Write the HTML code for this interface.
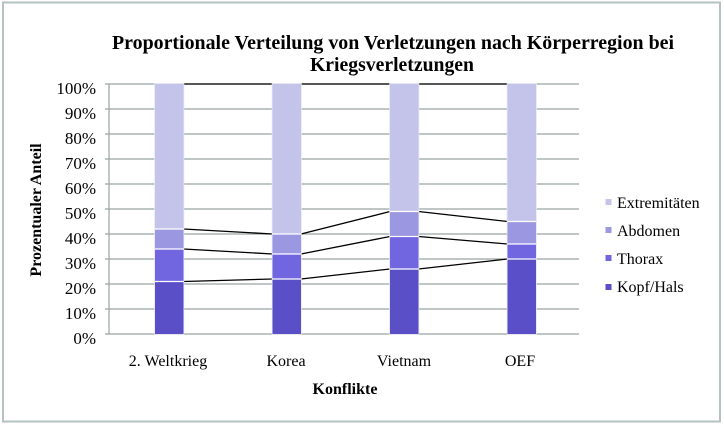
<!DOCTYPE html>
<html><head><meta charset="utf-8"><style>
html,body{margin:0;padding:0;background:#fff;}
svg{display:block;}
text{font-family:"Liberation Serif","DejaVu Serif",serif;fill:#000;}
</style></head><body>
<svg width="724" height="425" viewBox="0 0 724 425" xmlns="http://www.w3.org/2000/svg">
<rect x="0" y="0" width="724" height="425" fill="#fff"/>
<rect x="3" y="2.5" width="717" height="419" fill="none" stroke="#b6c2c2" stroke-width="2"/>
<!-- title -->
<text x="393" y="49" font-size="20" font-weight="bold" text-anchor="middle" textLength="562" lengthAdjust="spacingAndGlyphs">Proportionale Verteilung von Verletzungen nach Körperregion bei</text>
<text x="392" y="71" font-size="20" font-weight="bold" text-anchor="middle" textLength="164" lengthAdjust="spacingAndGlyphs">Kriegsverletzungen</text>
<!-- gridlines -->
<g stroke="#98a4a4" stroke-width="1.2">
<line x1="105" y1="84" x2="579" y2="84"/>
<line x1="105" y1="109" x2="579" y2="109"/>
<line x1="105" y1="134" x2="579" y2="134"/>
<line x1="105" y1="159" x2="579" y2="159"/>
<line x1="105" y1="184" x2="579" y2="184"/>
<line x1="105" y1="209" x2="579" y2="209"/>
<line x1="105" y1="234" x2="579" y2="234"/>
<line x1="105" y1="259" x2="579" y2="259"/>
<line x1="105" y1="284" x2="579" y2="284"/>
<line x1="105" y1="309" x2="579" y2="309"/>
<line x1="105" y1="334" x2="579" y2="334"/>
<line x1="109" y1="84" x2="109" y2="334"/>
</g>
<!-- y labels -->
<g font-size="17" text-anchor="end">
<text x="96" y="94">100%</text>
<text x="96" y="119">90%</text>
<text x="96" y="144">80%</text>
<text x="96" y="169">70%</text>
<text x="96" y="194">60%</text>
<text x="96" y="219">50%</text>
<text x="96" y="244">40%</text>
<text x="96" y="269">30%</text>
<text x="96" y="294">20%</text>
<text x="96" y="319">10%</text>
<text x="96" y="344">0%</text>
</g>
<text transform="translate(41,210) rotate(-90)" font-size="16" font-weight="bold" text-anchor="middle">Prozentualer Anteil</text>
<!-- connector lines -->
<g stroke="#000" stroke-width="1.3">
<line x1="183.5" y1="84" x2="272.5" y2="84"/>
<line x1="301" y1="84" x2="390" y2="84"/>
<line x1="418.5" y1="84" x2="507.5" y2="84"/>
<line x1="183.5" y1="281.5" x2="272.5" y2="279"/>
<line x1="183.5" y1="249" x2="272.5" y2="254"/>
<line x1="183.5" y1="229" x2="272.5" y2="234"/>
<line x1="301" y1="279" x2="390" y2="269"/>
<line x1="301" y1="254" x2="390" y2="236.5"/>
<line x1="301" y1="234" x2="390" y2="211.5"/>
<line x1="418.5" y1="269" x2="507.5" y2="259"/>
<line x1="418.5" y1="236.5" x2="507.5" y2="244"/>
<line x1="418.5" y1="211.5" x2="507.5" y2="221.5"/>
</g>
<!-- bars -->
<g stroke="#e6e6f6" stroke-width="1.5">
<rect x="155" y="84" width="28.5" height="250" fill="none"/>
<rect x="272.5" y="84" width="28.5" height="250" fill="none"/>
<rect x="390" y="84" width="28.5" height="250" fill="none"/>
<rect x="507.5" y="84" width="28.5" height="250" fill="none"/>
</g>
<g>
<rect x="155" y="84" width="28.5" height="145" fill="#c4c4ea"/>
<rect x="155" y="229" width="28.5" height="20" fill="#9c97e1"/>
<rect x="155" y="249" width="28.5" height="32.5" fill="#7265e0"/>
<rect x="155" y="281.5" width="28.5" height="52.5" fill="#5a4fc7"/>
<rect x="272.5" y="84" width="28.5" height="150" fill="#c4c4ea"/>
<rect x="272.5" y="234" width="28.5" height="20" fill="#9c97e1"/>
<rect x="272.5" y="254" width="28.5" height="25" fill="#7265e0"/>
<rect x="272.5" y="279" width="28.5" height="55" fill="#5a4fc7"/>
<rect x="390" y="84" width="28.5" height="127.5" fill="#c4c4ea"/>
<rect x="390" y="211.5" width="28.5" height="25" fill="#9c97e1"/>
<rect x="390" y="236.5" width="28.5" height="32.5" fill="#7265e0"/>
<rect x="390" y="269" width="28.5" height="65" fill="#5a4fc7"/>
<rect x="507.5" y="84" width="28.5" height="137.5" fill="#c4c4ea"/>
<rect x="507.5" y="221.5" width="28.5" height="22.5" fill="#9c97e1"/>
<rect x="507.5" y="244" width="28.5" height="15" fill="#7265e0"/>
<rect x="507.5" y="259" width="28.5" height="75" fill="#5a4fc7"/>
</g>
<!-- white separators -->
<g stroke="#fff" stroke-width="1.3">
<line x1="155" y1="229" x2="183.5" y2="229"/>
<line x1="155" y1="249" x2="183.5" y2="249"/>
<line x1="155" y1="281.5" x2="183.5" y2="281.5"/>
<line x1="272.5" y1="234" x2="301" y2="234"/>
<line x1="272.5" y1="254" x2="301" y2="254"/>
<line x1="272.5" y1="279" x2="301" y2="279"/>
<line x1="390" y1="211.5" x2="418.5" y2="211.5"/>
<line x1="390" y1="236.5" x2="418.5" y2="236.5"/>
<line x1="390" y1="269" x2="418.5" y2="269"/>
<line x1="507.5" y1="221.5" x2="536" y2="221.5"/>
<line x1="507.5" y1="244" x2="536" y2="244"/>
<line x1="507.5" y1="259" x2="536" y2="259"/>
</g>
<!-- x labels -->
<g font-size="16" text-anchor="middle">
<text x="168" y="366">2. Weltkrieg</text>
<text x="286" y="366">Korea</text>
<text x="404" y="366">Vietnam</text>
<text x="520" y="366">OEF</text>
</g>
<text x="345" y="394" font-size="16" font-weight="bold" text-anchor="middle">Konflikte</text>
<!-- legend -->
<rect x="605.5" y="199" width="6" height="6" fill="#c4c4ea"/>
<rect x="605.5" y="227" width="6" height="6" fill="#9c97e1"/>
<rect x="605.5" y="255" width="6" height="6" fill="#7265e0"/>
<rect x="605.5" y="284" width="6" height="6" fill="#5a4fc7"/>
<g font-size="16">
<text x="617" y="208">Extremitäten</text>
<text x="617" y="236">Abdomen</text>
<text x="617" y="264">Thorax</text>
<text x="617" y="292">Kopf/Hals</text>
</g>
</svg>
</body></html>
